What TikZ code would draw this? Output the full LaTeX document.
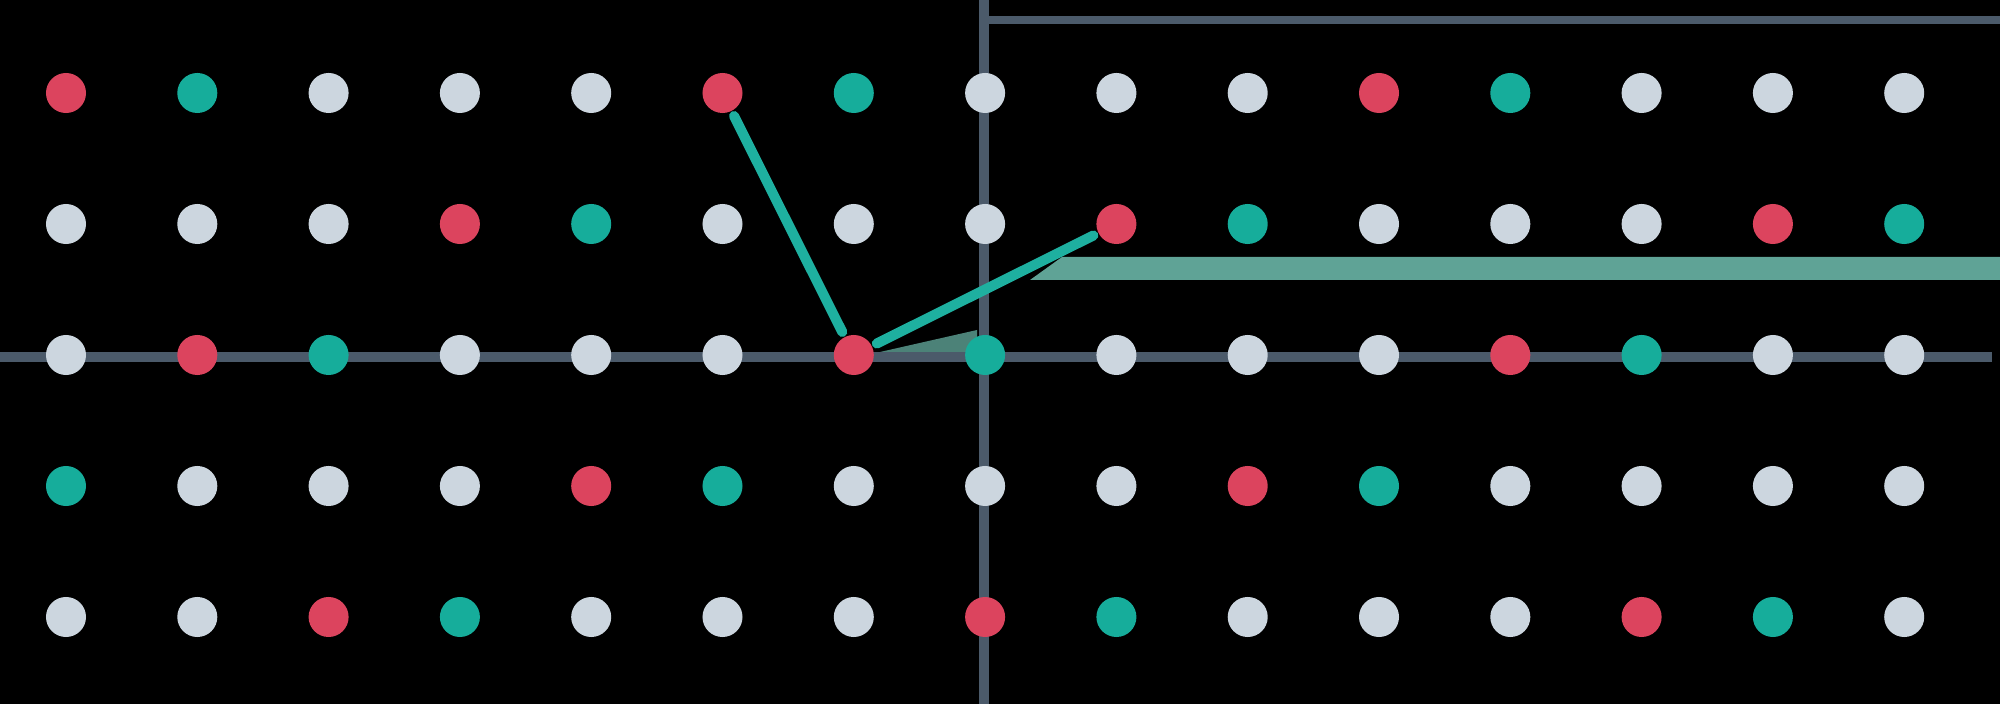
\documentclass[tikz,border=0pt]{standalone}
\definecolor{cr}{RGB}{220,68,94}
\definecolor{ct}{RGB}{22,173,155}
\definecolor{cg}{RGB}{204,214,223}
\definecolor{axisgrey}{RGB}{75,90,106}
\definecolor{vecteal}{RGB}{30,176,160}
\definecolor{muteteal}{RGB}{95,163,150}
\begin{document}
\begin{tikzpicture}[x=0.01cm, y=-0.01cm,
    dot/.style={circle,minimum size=0.4cm,inner sep=0pt},
    axis/.style={draw=axisgrey,line width=0.1cm},
    vec/.style={draw=vecteal,line width=0.1cm,line cap=round,shorten >=0.05cm,shorten <=0.05cm},
    mutefill/.style={fill=muteteal}
  ]
  \fill[black] (0,0) rectangle (2000,704);
  \useasboundingbox (0,0) rectangle (2000,704);

  \fill[mutefill] (1030,280) -- (1062,257) -- (2000,257) -- (2000,280) -- cycle;
  \fill[mutefill,opacity=0.8] (880,352) -- (977,330) -- (977,352) -- cycle;

  \draw[axis] (0,357) -- (1992,357);
  \draw[axis] (984,0) -- (984,704);
  \draw[axis,line width=0.08cm] (984,20) -- (2000,20);

  \foreach \row [count=\r from 0] in {
      {r,t,g,g,g,r,t,g,g,g,r,t,g,g,g},
      {g,g,g,r,t,g,g,g,r,t,g,g,g,r,t},
      {g,r,t,g,g,g,r,t,g,g,g,r,t,g,g},
      {t,g,g,g,r,t,g,g,g,r,t,g,g,g,g},
      {g,g,r,t,g,g,g,r,t,g,g,g,r,t,g}}
    \foreach \k [count=\c from 0] in \row
      \node[dot,fill=c\k] (p-\c-\r) at (66+131.3*\c, 93+131*\r) {};

  \draw[vec] (p-6-2) -- (p-5-0);
  \draw[vec] (p-6-2) -- (p-8-1);
\end{tikzpicture}
\end{document}
